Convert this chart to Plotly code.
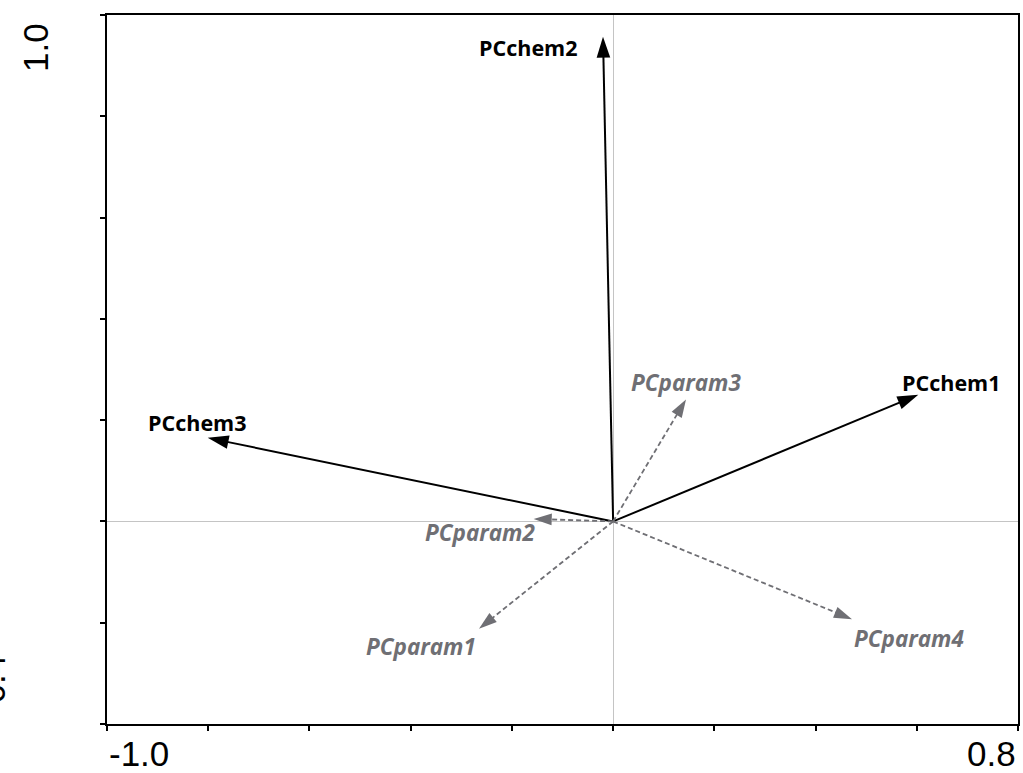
import plotly.graph_objects as go

# Loadings of the chemistry and parameter components on the two biplot axes
names = ["PCchem1", "PCchem2", "PCchem3", "PCparam1", "PCparam2", "PCparam3", "PCparam4"]
load_x = [0.603, -0.020, -0.801, -0.265, -0.157, 0.144, 0.472]
load_y = [0.250, 0.957, 0.165, -0.212, 0.005, 0.241, -0.193]
group = ["chem", "chem", "chem", "param", "param", "param", "param"]

# Label offsets from the arrow tips, in pixels (right / up positive)
label_dx = [33, -74, -10, -58, -54, 0, 57]
label_dy = [12, -11, 15, -18, -14, 17, -19]

x_range = [-1.0, 0.8]
y_range = [-0.4, 1.0]
x_ticks = [-1.0, -0.8, -0.6, -0.4, -0.2, 0.0, 0.2, 0.4, 0.6, 0.8]
y_ticks = [-0.4, -0.2, 0.0, 0.2, 0.4, 0.6, 0.8, 1.0]
x_end_labels = ["-1.0", "0.8"]
y_end_labels = ["-0.4", "1.0"]

style = {
    "chem": dict(color="#000000", width=2.0, dash="solid", head=22, font=21.5),
    "param": dict(color="#6f6f74", width=1.8, dash="5px,3px", head=19, font=22.5),
}

fig = go.Figure()

for name, lx, ly, g in zip(names, load_x, load_y, group):
    s = style[g]
    fig.add_trace(go.Scatter(
        x=[0, lx], y=[0, ly],
        mode="lines+markers",
        line=dict(color=s["color"], width=s["width"], dash=s["dash"]),
        marker=dict(symbol=["circle", "arrow"], size=[0, s["head"]],
                    angleref="previous", color=s["color"], opacity=1,
                    line=dict(width=0)),
        hoverinfo="skip", showlegend=False, name=name,
    ))

annotations = []
for name, lx, ly, g, dx, dy in zip(names, load_x, load_y, group, label_dx, label_dy):
    s = style[g]
    annotations.append(dict(
        x=lx, y=ly, xref="x", yref="y", text=name, showarrow=False,
        xanchor="center", yanchor="middle", xshift=dx, yshift=dy,
        font=dict(family="Open Sans", size=s["font"], color=s["color"], weight="bold",
                  style="italic" if g == "param" else "normal"),
    ))

# End labels of the axes
tick_font = dict(family="Liberation Sans, Arial", size=35, color="#000000")
annotations.append(dict(x=x_range[0], y=0, xref="x", yref="paper", text=x_end_labels[0],
                        showarrow=False, xanchor="left", yanchor="middle", yshift=-29,
                        font=tick_font))
annotations.append(dict(x=x_range[1], y=0, xref="x", yref="paper", text=x_end_labels[1],
                        showarrow=False, xanchor="right", yanchor="middle", yshift=-29,
                        font=tick_font))
annotations.append(dict(x=0, y=y_range[1], xref="paper", yref="y", text=y_end_labels[1],
                        showarrow=False, xanchor="center", yanchor="middle", textangle=-90,
                        xshift=-72, yshift=-33, font=tick_font))
annotations.append(dict(x=0, y=y_range[0], xref="paper", yref="y", text=y_end_labels[0],
                        showarrow=False, xanchor="center", yanchor="middle", textangle=-90,
                        xshift=-115, yshift=39, font=tick_font))

axis_common = dict(showgrid=False, showline=True, linecolor="#000000", linewidth=2,
                   mirror=True, ticks="outside", ticklen=5, tickwidth=1.5,
                   tickcolor="#000000", showticklabels=False,
                   zeroline=True, zerolinecolor="#c4c4c4", zerolinewidth=1)

fig.update_layout(
    width=1023, height=773,
    margin=dict(l=107, r=3, t=15, b=49),
    paper_bgcolor="white", plot_bgcolor="white",
    xaxis=dict(range=x_range, tickvals=x_ticks, **axis_common),
    yaxis=dict(range=y_range, tickvals=y_ticks, **axis_common),
    # short inner tick stubs so the ticks cross the axis lines
    xaxis2=dict(range=x_range, tickvals=x_ticks, overlaying="x", anchor="y", side="bottom",
                ticks="inside", ticklen=3, tickwidth=1.5, tickcolor="#000000",
                showticklabels=False, showline=False, showgrid=False, zeroline=False),
    yaxis2=dict(range=y_range, tickvals=y_ticks, overlaying="y", anchor="x", side="left",
                ticks="inside", ticklen=3, tickwidth=1.5, tickcolor="#000000",
                showticklabels=False, showline=False, showgrid=False, zeroline=False),
    annotations=annotations,
)

fig.write_html("out.html")
